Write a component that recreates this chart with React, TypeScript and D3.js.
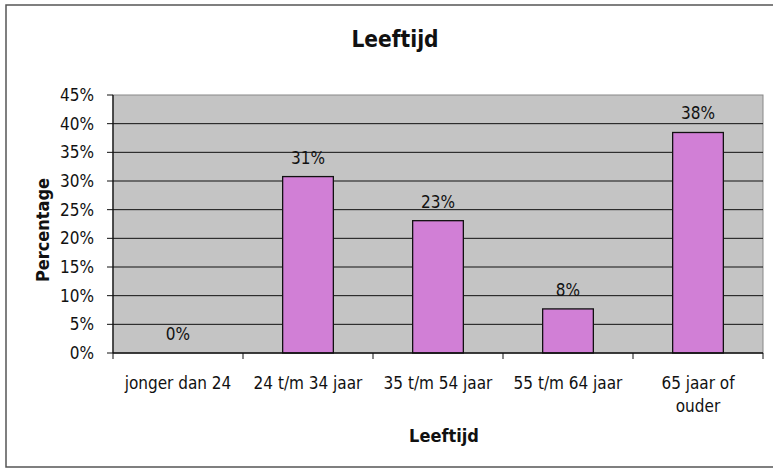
import React from 'react';
import * as d3 from 'd3';

// leeftijdscategorieen en aandeel respondenten (%)
const categories = ['jonger dan 24', '24 t/m 34 jaar', '35 t/m 54 jaar', '55 t/m 64 jaar', '65 jaar of ouder'];
const percentages = [0, 30.77, 23.08, 7.69, 38.46];
const valueLabels = ['0%', '31%', '23%', '8%', '38%'];
const yTicks = [0, 5, 10, 15, 20, 25, 30, 35, 40, 45];

const W = 773, H = 470;
const plot = { left: 113, right: 763, top: 95, bottom: 353 };
const font = '"DejaVu Sans Condensed", "DejaVu Sans", sans-serif';

// long labels wrap on two lines, like Excel does
const wrap = (s: string) => (s === '65 jaar of ouder' ? ['65 jaar of', 'ouder'] : [s]);

export default function App() {
  const x = d3.scaleBand<string>()
    .domain(categories)
    .range([plot.left, plot.right])
    .paddingInner(0.61)
    .paddingOuter(0.305);
  const y = d3.scaleLinear().domain([0, 45]).range([plot.bottom, plot.top]);
  const bounds = d3.scaleBand<string>().domain(categories).range([plot.left, plot.right]);

  return (
    <svg width={W} height={H} style={{ position: 'absolute', left: 0, top: 0 }} fontFamily={font}>
      <rect x={0} y={0} width={W} height={H} fill="#fff" />
      <rect x={6} y={5} width={W + 10} height={462} fill="none" stroke="#555" strokeWidth={1.5} />

      <text x={395} y={39} dy="0.35em" textAnchor="middle" fontSize={22.5} fontWeight="bold" fill="#111">Leeftijd</text>

      <rect x={plot.left} y={plot.top} width={plot.right - plot.left} height={plot.bottom - plot.top}
        fill="#c4c4c4" stroke="#888" strokeWidth={1} />

      {yTicks.map(t => (
        <g key={t}>
          {t > 0 && t < 45 && (
            <line x1={plot.left} x2={plot.right} y1={y(t)} y2={y(t)} stroke="#111" strokeWidth={1} />
          )}
          <line x1={plot.left - 6} x2={plot.left} y1={y(t)} y2={y(t)} stroke="#111" />
          <text x={94} y={y(t)} dy="0.35em" textAnchor="end" fontSize={17} fill="#111">{t}%</text>
        </g>
      ))}

      {categories.map((c, i) => (
        <g key={c}>
          {percentages[i] > 0 && (
            <rect x={x(c)} y={y(percentages[i])} width={x.bandwidth()} height={plot.bottom - y(percentages[i])}
              fill="#d17fd6" stroke="#111" strokeWidth={1.3} />
          )}
          <text x={x(c)! + x.bandwidth() / 2} y={y(percentages[i]) - 19} dy="0.35em" textAnchor="middle"
            fontSize={17} fill="#111">{valueLabels[i]}</text>
          {wrap(c).map((line, j) => (
            <text key={j} x={bounds(c)! + bounds.bandwidth() / 2} y={383 + j * 23} dy="0.35em"
              textAnchor="middle" fontSize={17} fill="#111">{line}</text>
          ))}
        </g>
      ))}

      <line x1={plot.left} x2={plot.right} y1={plot.bottom} y2={plot.bottom} stroke="#111" strokeWidth={1.3} />
      <line x1={plot.left} x2={plot.left} y1={plot.top} y2={plot.bottom} stroke="#111" strokeWidth={1.3} />
      {[...categories.map(c => bounds(c)!), plot.right].map((bx, i) => (
        <line key={i} x1={bx} x2={bx} y1={plot.bottom} y2={plot.bottom + 6} stroke="#111" />
      ))}

      <text x={444} y={436} dy="0.35em" textAnchor="middle" fontSize={18} fontWeight="bold" fill="#111">Leeftijd</text>
      <text transform="translate(43,230) rotate(-90)" dy="0.35em" textAnchor="middle" fontSize={18}
        fontWeight="bold" fill="#111">Percentage</text>
    </svg>
  );
}
